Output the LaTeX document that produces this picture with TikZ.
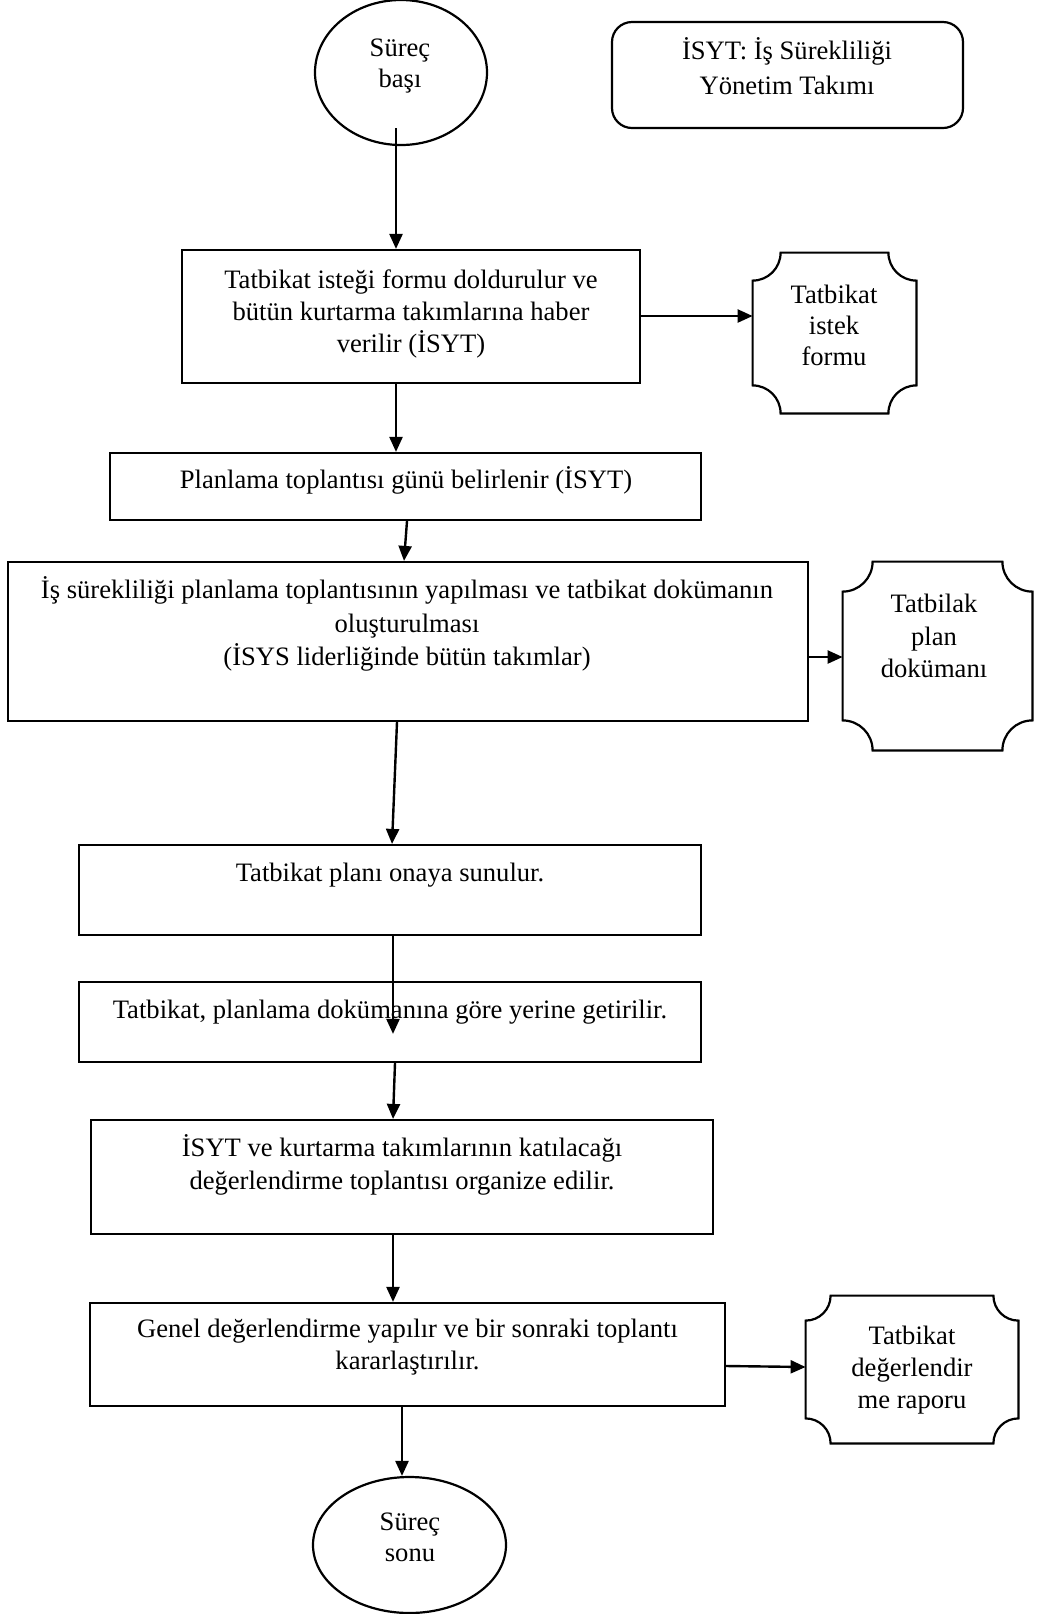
\documentclass[tikz,border=0pt]{standalone}
\usepackage{fontspec}
\setmainfont{Liberation Serif}
\usetikzlibrary{arrows.meta,calc,shapes.geometric}

\tikzset{
  stroke/.style={line width=1.1pt},
  procbox/.style={draw, stroke, rectangle, inner sep=0pt},
  roundbox/.style={procbox, rounded corners=10pt},
  docnode/.style={rectangle, inner sep=0pt},
  oval/.style={draw, stroke, ellipse, inner sep=0pt},
  txt/.style={align=center, inner sep=0pt, font=\fontsize{13.3}{16.2}\selectfont},
  arr/.style={line width=1.2pt, -{Triangle[length=7.5pt,width=6.5pt]}},
}

% outline of a box whose four corners are cut by concave quarter circles
\newcommand\notchedoutline[2]{%
  \draw[stroke]
    ($(#1.north west)+(#2,0)$) -- ($(#1.north east)+(-#2,0)$)
    .. controls ($(#1.north east)+(-#2,0.552*#2)$) and ($(#1.north east)+(-0.552*#2,#2)$) .. ($(#1.north east)+(0,#2)$)
    -- ($(#1.south east)+(0,-#2)$)
    .. controls ($(#1.south east)+(-0.552*#2,-#2)$) and ($(#1.south east)+(-#2,-0.552*#2)$) .. ($(#1.south east)+(-#2,0)$)
    -- ($(#1.south west)+(#2,0)$)
    .. controls ($(#1.south west)+(#2,-0.552*#2)$) and ($(#1.south west)+(0.552*#2,-#2)$) .. ($(#1.south west)+(0,-#2)$)
    -- ($(#1.north west)+(0,#2)$)
    .. controls ($(#1.north west)+(0.552*#2,#2)$) and ($(#1.north west)+(#2,0.552*#2)$) .. cycle;
}

\begin{document}
\begin{tikzpicture}[x=0.5pt,y=-0.5pt]
\useasboundingbox (0,0) rectangle (1038,1614);

% terminals
\node[oval, minimum width=86pt, minimum height=72.5pt] (start) at (401,72.5) {};
\node[txt, font=\fontsize{13.3}{15.5}\selectfont] (startt) at (400,66) {Süreç\\başı};
\node[oval, minimum width=96.5pt, minimum height=68pt] (stop) at (409.5,1545) {};
\node[txt, font=\fontsize{13.3}{15.5}\selectfont] (stopt) at (410,1537) {Süreç\\sonu};

% legend
\node[roundbox, minimum width=175.5pt, minimum height=53pt] (legend) at (787.5,75) {};
\node[txt, font=\fontsize{13.3}{17.5}\selectfont] (legendt) at (787,66) {İSYT: İş Sürekliliği\\Yönetim Takımı};

% process steps
\node[procbox, minimum width=229pt, minimum height=66.5pt] (b1) at (411,316.5) {};
\node[txt] (b1t) at (411,314) {Tatbikat isteği formu doldurulur ve\\bütün kurtarma takımlarına haber\\verilir (İSYT)};

\node[procbox, minimum width=295.5pt, minimum height=33.5pt] (b2) at (405.5,486.5) {};
\node[txt] (b2t) at (406,480) {Planlama toplantısı günü belirlenir (İSYT)};

\node[procbox, minimum width=400pt, minimum height=79.5pt] (b3) at (408,641.5) {};
\node[txt, font=\fontsize{13.3}{16.8}\selectfont] (b3t) at (407,624) {İş sürekliliği planlama toplantısının yapılması ve tatbikat dokümanın\\oluşturulması\\(İSYS liderliğinde bütün takımlar)};

\node[procbox, minimum width=311pt, minimum height=45pt] (b4) at (390,890) {};
\node[txt] (b4t) at (390,875) {Tatbikat planı onaya sunulur.};

\node[procbox, minimum width=311pt, minimum height=40pt] (b5) at (390,1022) {};
\node[txt] (b5t) at (390,1012) {Tatbikat, planlama dokümanına göre yerine getirilir.};

\node[procbox, minimum width=311pt, minimum height=57pt] (b6) at (402,1177) {};
\node[txt] (b6t) at (402,1165) {İSYT ve kurtarma takımlarının katılacağı\\değerlendirme toplantısı organize edilir.};

\node[procbox, minimum width=317.5pt, minimum height=51.5pt] (b7) at (407.5,1354.5) {};
\node[txt] (b7t) at (407.5,1347) {Genel değerlendirme yapılır ve bir sonraki toplantı\\kararlaştırılır.};

% documents
\node[docnode, minimum width=81.5pt, minimum height=80pt] (form) at (834.5,333) {};
\notchedoutline{form}{28}
\node[txt, font=\fontsize{13.3}{15.5}\selectfont] (formt) at (834,325) {Tatbikat\\istek\\formu};

\node[docnode, minimum width=94.5pt, minimum height=94pt] (plan) at (937.5,656) {};
\notchedoutline{plan}{30}
\node[txt, font=\fontsize{13.3}{16.2}\selectfont] (plant) at (934,636) {Tatbilak\\plan\\dokümanı};

\node[docnode, minimum width=106pt, minimum height=73.5pt] (report) at (912,1369.5) {};
\notchedoutline{report}{25}
\node[txt, font=\fontsize{13.3}{16}\selectfont] (reportt) at (912,1370) {Tatbikat\\değerlendir\\me raporu};

% connectors
\draw[arr] ($(start.south)+(-5,-18)$) -- (396,0 |- b1.north);
\draw[arr] (b1.east |- 0,316) -- (form.west |- 0,316);
\draw[arr] (396,0 |- b1.south) -- (396,0 |- b2.north);
\draw[arr] (407,0 |- b2.south) -- (404,0 |- b3.north);
\draw[arr] (b3.east |- 0,657) -- (plan.west |- 0,657);
\draw[arr] (397,0 |- b3.south) -- (392,0 |- b4.north);
\draw[arr] (393,0 |- b4.south) -- ($(b5.north)+(3,53)$);
\draw[arr] (395,0 |- b5.south) -- (393,0 |- b6.north);
\draw[arr] (393,0 |- b6.south) -- (393,0 |- b7.north);
\draw[arr] (b7.east |- 0,1366) -- (report.west |- 0,1367);
\draw[arr] (402,0 |- b7.south) -- (402,0 |- stop.north);
\end{tikzpicture}
\end{document}
